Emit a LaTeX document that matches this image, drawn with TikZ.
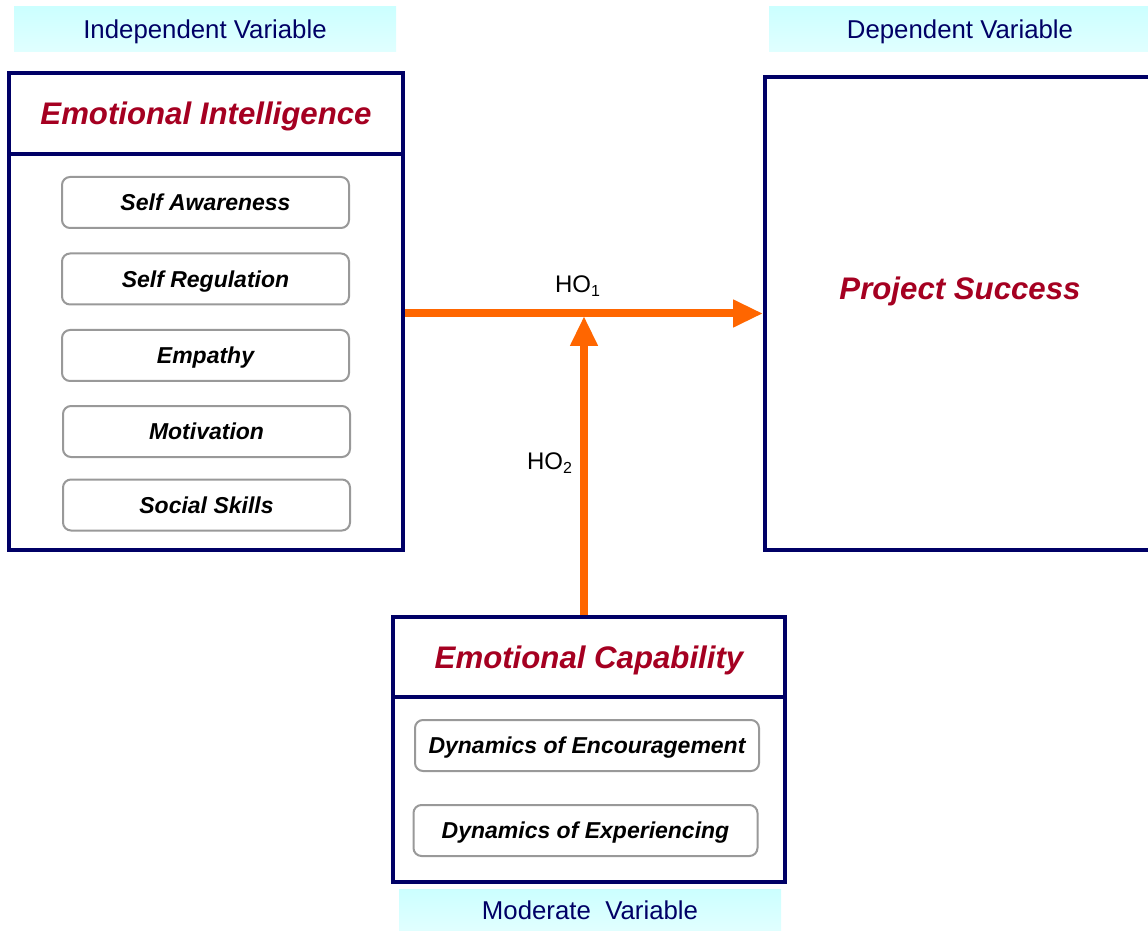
\documentclass[tikz,border=0pt]{standalone}
\usepackage{fontspec}
\setmainfont{Liberation Sans}
\usetikzlibrary{arrows.meta}
\definecolor{navy}{HTML}{000066}
\definecolor{wine}{HTML}{A50021}
\definecolor{flow}{HTML}{FF6600}
\definecolor{aqua}{HTML}{CCFFFF}
\begin{document}
\begin{tikzpicture}[x=0.5pt, y=-0.5pt,
  varlabel/.style={rectangle, top color=aqua, middle color=aqua!25, bottom color=aqua!60, minimum width=191pt, minimum height=22.5pt, inner sep=0pt, text=navy, font=\fontsize{12.9}{15}\selectfont, text height=9.2pt, text depth=0pt},
  frame/.style={rectangle, draw=navy, line width=2pt, fill=white, inner sep=0pt},
  title/.style={text=wine, font=\fontsize{15.6}{18}\selectfont\bfseries\itshape, text height=11.2pt, text depth=0pt},
  item/.style={rectangle, rounded corners=4pt, draw=black!40, line width=1pt, fill=white, minimum height=25.5pt, inner sep=0pt, font=\fontsize{11.5}{14}\selectfont\bfseries\itshape, text height=8.2pt, text depth=0pt},
  link/.style={-{Triangle[length=15pt,width=13pt]}, draw=flow, line width=4pt},
  hyp/.style={font=\fontsize{12}{14}\selectfont}]
\clip (0,0) rectangle (1148,931);
% variable labels
\node[varlabel] (indep) at (205,29.5) {Independent Variable};
\node[varlabel] (dep) at (960,29.5) {Dependent Variable};
\node[varlabel, minimum height=20.5pt] (moder) at (590,910) {Moderate\ \ Variable};
% independent variable
\node[frame, minimum width=197pt, minimum height=40.5pt, title] (eihead) at (206,113.5) {Emotional Intelligence};
\node[frame, minimum width=197pt, minimum height=198pt] (eibody) at (206,352) {};
\node[item, minimum width=143.5pt] (sa) at (205.5,202.5) {Self Awareness};
\node[item, minimum width=143.5pt] (sr) at (205.5,279) {Self Regulation};
\node[item, minimum width=143.5pt] (emp) at (205.5,355.5) {Empathy};
\node[item, minimum width=143.5pt] (mot) at (206.5,431.5) {Motivation};
\node[item, minimum width=143.5pt] (ss) at (206.5,505) {Social Skills};
% dependent variable
\node[frame, minimum width=197.5pt, minimum height=236.5pt] (ps) at (962.5,313.5) {};
\node[title] (pstitle) at (960,288) {Project Success};
% moderating variable
\node[frame, minimum width=196pt, minimum height=40pt, title] (echead) at (589,657) {Emotional Capability};
\node[frame, minimum width=196pt, minimum height=92.5pt] (ecbody) at (589,789.5) {};
\node[item, minimum width=172pt] (denc) at (587,745.5) {Dynamics of Encouragement};
\node[item, minimum width=172pt] (dexp) at (585.5,830.5) {Dynamics of Experiencing};
% hypotheses
\coordinate (join) at (584,316);
\draw[link] (eibody.east |- ps.west) -- (ps.west);
\draw[link] (echead.north -| join) -- (join);
\node[hyp] (ho1) at (578,286) {HO\textsubscript{1}};
\node[hyp] (ho2) at (550,463) {HO\textsubscript{2}};
\end{tikzpicture}
\end{document}
